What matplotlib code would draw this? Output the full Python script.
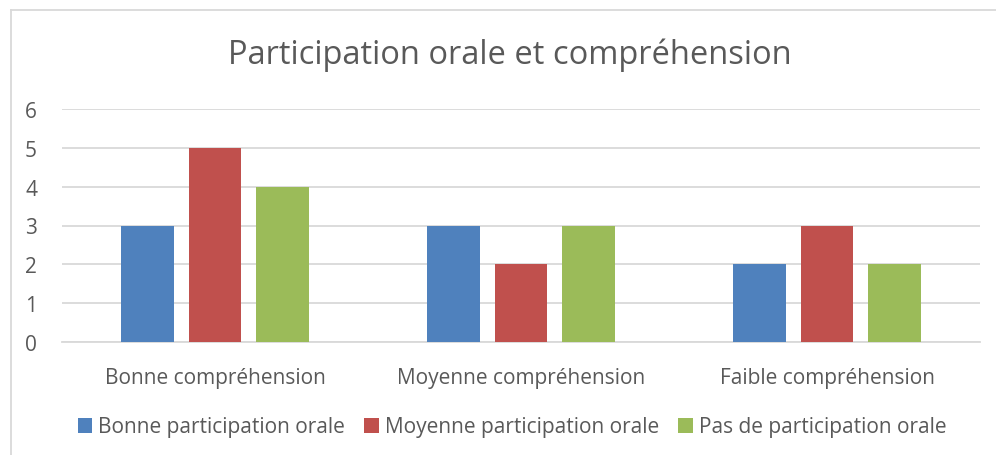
import numpy as np
import matplotlib.pyplot as plt
from matplotlib.lines import Line2D

plt.rcParams['font.family'] = ['Open Sans', 'DejaVu Sans']

categories = ['Bonne compréhension', 'Moyenne compréhension', 'Faible compréhension']
series_names = ['Bonne participation orale', 'Moyenne participation orale', 'Pas de participation orale']
bonne = [3, 3, 2]
moyenne = [5, 2, 3]
pas = [4, 3, 2]
colors = ['#4F81BD', '#C0504D', '#9BBB59']
text_col = '#595959'
grid_col = '#D9D9D9'

W, H = 996, 456
fig = plt.figure(figsize=(W / 100, H / 100), dpi=100)

# zone de tracé en pixels de l'image
x0, x1, y0, y6 = 62, 980, 343, 110
ax = fig.add_axes([x0 / W, (H - y0) / H, (x1 - x0) / W, (y0 - y6) / H])

x = np.arange(len(categories))
w = 0.173
step = 0.222
for k, (vals, col, name) in enumerate(zip([bonne, moyenne, pas], colors, series_names)):
    ax.bar(x + (k - 1) * step, vals, width=w, color=col, label=name, zorder=3)

ax.set_xlim(-0.5, 2.5)
ax.set_ylim(0, 6)
ax.set_yticks(range(7))
ax.yaxis.grid(True, color=grid_col, linewidth=1.3, zorder=0)
ax.set_axisbelow(True)
for s in ['top', 'right', 'left']:
    ax.spines[s].set_visible(False)
ax.spines['bottom'].set_color(grid_col)
ax.spines['bottom'].set_linewidth(1.3)
ax.tick_params(axis='both', length=0, labelsize=15, colors=text_col)
ax.tick_params(axis='y', pad=18)
ax.tick_params(axis='x', pad=18)
ax.set_xticks(x)
ax.set_xticklabels(categories)

fig.text(510 / W, 1 - 55 / H, 'Participation orale et compréhension',
         ha='center', va='center', fontsize=23.5, color=text_col)

leg = fig.legend(loc='center', bbox_to_anchor=(512 / W, 1 - 428 / H), ncol=3,
                 frameon=False, fontsize=15, handlelength=0.7, handleheight=0.7,
                 handletextpad=0.3, columnspacing=0.9)
for t in leg.get_texts():
    t.set_color(text_col)

# bordure du graphique
fig.add_artist(Line2D([10.5 / W, 10.5 / W], [0, 1 - 11 / H], transform=fig.transFigure,
                      color=grid_col, linewidth=1.3))
fig.add_artist(Line2D([10.5 / W, 1], [1 - 11 / H, 1 - 11 / H], transform=fig.transFigure,
                      color=grid_col, linewidth=1.3))

fig.savefig('out.png', dpi=100)
